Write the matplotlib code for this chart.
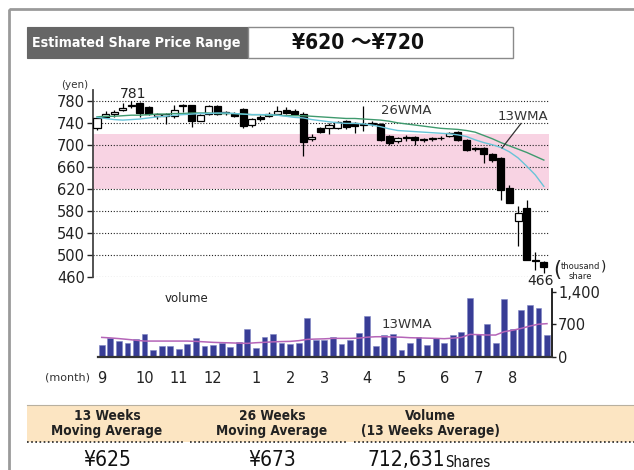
import matplotlib.pyplot as plt
from matplotlib.patches import Rectangle
import numpy as np

# --------- DADOS ----------
# velas semanais (iene)
opens = [731, 752, 758, 764, 772, 777, 770, 753, 753, 753, 773, 773, 745, 757, 772, 759, 757, 767,
         737, 752, 753, 758, 764, 763, 758, 711, 732, 731, 732, 744, 740, 737, 738, 738, 717, 707,
         716, 715, 710, 711, 713, 717, 724, 710, 694, 695, 684, 677, 622, 561, 585, 490, 486]
highs = [750, 762, 764, 777, 781, 779, 771, 759, 759, 774, 775, 774, 757, 774, 773, 762, 760, 768,
         750, 755, 760, 771, 770, 766, 760, 721, 734, 740, 744, 746, 742, 771, 744, 740, 719, 716,
         719, 717, 714, 716, 717, 724, 726, 712, 697, 697, 686, 679, 627, 589, 601, 506, 488]
lows = [728, 750, 752, 762, 769, 751, 755, 748, 738, 749, 760, 733, 744, 755, 756, 755, 752, 731,
        734, 745, 751, 756, 757, 755, 680, 708, 722, 720, 730, 729, 722, 727, 735, 707, 700, 705,
        708, 700, 706, 707, 709, 715, 708, 690, 690, 667, 670, 601, 594, 516, 490, 472, 466]
closes = [749, 757, 760, 768, 773, 759, 757, 757, 757, 764, 772, 745, 756, 772, 758, 760, 754, 736,
          748, 748, 757, 762, 759, 757, 706, 716, 724, 737, 742, 734, 735, 739, 741, 710, 705, 713,
          714, 709, 711, 713, 714, 722, 710, 692, 693, 684, 673, 619, 595, 576, 491, 488, 478]

ma13 = [751, 749, 747, 746, 747, 748, 750, 752, 753, 755, 756, 757, 758, 758, 759, 759, 758, 757,
        756, 756, 756, 755, 753, 751, 750, 747, 745, 743, 741, 740, 740, 739, 737, 734, 730, 727,
        726, 725, 724, 723, 722, 721, 719, 716, 710, 705, 701, 696, 688, 677, 662, 646, 625]
ma26 = [752, 753, 753, 754, 755, 755, 756, 757, 757, 758, 758, 759, 759, 759, 758, 758, 758, 757,
        756, 756, 755, 755, 754, 754, 754, 753, 752, 751, 750, 749, 749, 748, 747, 746, 744, 741,
        739, 737, 735, 733, 731, 730, 729, 727, 724, 718, 712, 705, 699, 693, 687, 680, 673]

# volume (mil acoes)
volume = [251, 395, 345, 300, 373, 488, 144, 230, 230, 165, 273, 402, 230, 251, 287, 215, 316, 589,
          194, 431, 488, 300, 266, 300, 833, 359, 359, 431, 266, 359, 503, 876, 237, 467, 481, 144,
          287, 431, 251, 395, 300, 467, 524, 1271, 488, 704, 287, 1235, 589, 1005, 1113, 1041, 467]
vol_ma13 = [416, 405, 390, 373, 355, 337, 337, 337, 337, 337, 337, 330, 320, 309, 303, 298, 292, 287,
            301, 310, 320, 326, 330, 345, 373, 380, 385, 395, 395, 395, 400, 420, 430, 431, 425, 420,
            409, 405, 400, 395, 388, 400, 416, 481, 475, 467, 467, 539, 570, 610, 660, 700, 712]

month_pos = [0, 5, 9, 13, 18, 22, 26, 31, 35, 40, 44, 48]
month_labels = ["9", "10", "11", "12", "1", "2", "3", "4", "5", "6", "7", "8"]

price_ticks = [460, 500, 540, 580, 620, 660, 700, 740, 780]
vol_ticks = [0, 700, 1400]
vol_tick_labels = ["0", "700", "1,400"]

band_low, band_high = 620, 720
ma13_last, ma26_last, vol_ma_last = "¥625", "¥673", "712,631"

# --------- CONFIG ----------
W, H = 634, 470
NARROW = ["DejaVu Sans", "Noto Sans CJK JP"]
COR_ALTA = "white"
COR_BAIXA = "black"
COR_MA13 = "#68c4d8"
COR_MA26 = "#3f9a6e"
COR_VOL = "#383d96"
COR_VOL_MA = "#b565b8"


def fr(x0, y0, x1, y1):
    # pixels -> fracao da figura [left, bottom, width, height]
    return [x0 / W, 1 - y1 / H, (x1 - x0) / W, (y1 - y0) / H]


fig = plt.figure(figsize=(W / 100, H / 100), dpi=100)
fig.patch.set_facecolor("white")

# --------- GRAFICO DE PRECO ----------
ax = fig.add_axes(fr(92.7, 90, 549, 276.7), zorder=2)
ax.set_facecolor("none")
x = np.arange(len(opens))
ax.set_xlim(-0.5, len(opens) - 0.4)
ax.set_ylim(460, 801)

ax.axhspan(band_low, band_high, color="#f8d3e3", lw=0, zorder=0)
for t in price_ticks:
    ax.axhline(t, color="#222222", lw=0.8, ls=(0, (1, 1.6)), zorder=1)

o = np.array(opens)
c = np.array(closes)
bottoms = np.minimum(o, c)
heights = np.maximum(np.abs(c - o), 1.2)
cores = [COR_ALTA if cc >= oo else COR_BAIXA for oo, cc in zip(o, c)]
ax.vlines(x, lows, highs, color="black", lw=0.9, zorder=2)
ax.bar(x, heights, bottom=bottoms, width=0.82, color=cores, edgecolor="black", lw=0.9, zorder=3)

ax.plot(x, ma26, color=COR_MA26, lw=1.0, zorder=4)
ax.plot(x, ma13, color=COR_MA13, lw=1.0, zorder=4)

ax.set_yticks(price_ticks)
ax.set_xticks([])
ax.tick_params(axis="y", direction="out", length=4, width=1, labelsize=10.5, pad=1.5, colors="#222222")
for s in ["top", "right", "bottom"]:
    ax.spines[s].set_visible(False)
ax.spines["left"].set_color("#444444")
ax.spines["left"].set_linewidth(1.3)

# --------- GRAFICO DE VOLUME ----------
axv = fig.add_axes(fr(98.3, 289.4, 551.7, 356.7), zorder=2)
axv.set_facecolor("none")
axv.set_xlim(-0.4, len(volume) - 0.45)
axv.set_ylim(0, 1450)
axv.bar(x, volume, width=0.68, color=COR_VOL, edgecolor="#7d84c4", lw=0.4, zorder=2)
axv.plot(x, vol_ma13, color=COR_VOL_MA, lw=1.1, zorder=3)
axv.yaxis.tick_right()
axv.set_yticks(vol_ticks, vol_tick_labels)
axv.tick_params(axis="y", direction="out", length=3, width=1, labelsize=10.5, pad=1.5, colors="#222222")
axv.set_xticks(month_pos, month_labels)
axv.tick_params(axis="x", length=0, labelsize=10.5, pad=10, colors="#222222")
for s in ["top", "left"]:
    axv.spines[s].set_visible(False)
axv.spines["right"].set_linewidth(1.2)
axv.spines["bottom"].set_linewidth(1.6)
axv.spines["bottom"].set_color("#333333")

# --------- CAMADA DE TEXTOS / MOLDURA (coordenadas em pixels) ----------
ov = fig.add_axes([0, 0, 1, 1], zorder=5)
ov.set_xlim(0, W)
ov.set_ylim(H, 0)
ov.axis("off")
ov.patch.set_alpha(0)

# moldura externa
ov.add_patch(Rectangle((9, 9), 640, 480, fill=False, edgecolor="#9a9a9a", lw=2))

# cabecalho
ov.add_patch(Rectangle((26.7, 26.7), 221.3, 31.6, facecolor="#666666", edgecolor="#666666", lw=0.8))
ov.add_patch(Rectangle((248, 26.7), 265, 31.6, facecolor="white", edgecolor="#8a8a8a", lw=1))
ov.text(136, 43, "Estimated Share Price Range", color="white", fontsize=10.2, fontweight="bold",
        family=NARROW, fontstretch="condensed", ha="center", va="center")
ov.text(358, 43, "¥620 ～¥720", color="#111111", fontsize=15, fontweight="bold",
        family=NARROW, fontstretch="condensed", ha="center", va="center")

# rotulos do grafico de preco
ov.text(75, 84.5, "(yen)", fontsize=7.5, ha="center", va="center", color="#333333")
ov.text(133, 93.5, "781", fontsize=10, ha="center", va="center", color="#222222")
ov.text(541, 281, "466", fontsize=10, ha="center", va="center", color="#222222")
ov.text(406, 110.5, "26WMA", fontsize=9.5, ha="center", va="center", color="#333333")
ov.text(523, 117, "13WMA", fontsize=9.5, ha="center", va="center", color="#333333")
ov.plot([521, 502], [123.5, 148], color="#333333", lw=0.9)
ov.text(557, 270, "(", fontsize=15, ha="center", va="center", color="#222222")
ov.text(580, 266.5, "thousand", fontsize=6, ha="center", va="center", color="#222222")
ov.text(580, 276.5, "share", fontsize=6, ha="center", va="center", color="#222222")
ov.text(604, 267, ")", fontsize=10, ha="center", va="center", color="#222222")

# rotulos do grafico de volume
ov.text(186.7, 298, "volume", fontsize=8.5, ha="center", va="center", color="#222222")
ov.text(406.7, 324, "13WMA", fontsize=9.5, ha="center", va="center", color="#333333")
ov.text(68, 377, "(month)", fontsize=8, ha="center", va="center", color="#333333")

# tabela inferior
ov.add_patch(Rectangle((26.7, 405), 640, 37, facecolor="#fce5c2", edgecolor="none"))
ov.plot([26.7, 634], [405, 405], color="#b8b0a0", lw=0.8)
for x0, x1 in [(27, 184), (190, 348), (354, 634)]:
    ov.plot([x0, x1], [442.3, 442.3], color="#222222", lw=1.2, ls=(0, (1, 1.5)))

colunas = [(107, "13 Weeks", "Moving Average"),
           (272, "26 Weeks", "Moving Average"),
           (430, "Volume", "(13 Weeks Average)")]
for cx, l1, l2 in colunas:
    ov.text(cx, 416.5, l1, fontsize=9.8, fontweight="bold", family=NARROW, fontstretch="condensed",
            ha="center", va="center", color="#222222")
    ov.text(cx, 431, l2, fontsize=9.8, fontweight="bold", family=NARROW, fontstretch="condensed",
            ha="center", va="center", color="#222222")

ov.text(107, 460.5, ma13_last, fontsize=15, family=NARROW, fontstretch="condensed",
        ha="center", va="center", color="#111111")
ov.text(272, 460.5, ma26_last, fontsize=15, family=NARROW, fontstretch="condensed",
        ha="center", va="center", color="#111111")
ov.text(445, 460.5, vol_ma_last, fontsize=15, family=NARROW, fontstretch="condensed",
        ha="right", va="center", color="#111111")
ov.text(445, 462.5, "Shares", fontsize=10.5, family=NARROW, fontstretch="condensed",
        ha="left", va="center", color="#111111")

plt.savefig("out.png", dpi=100, facecolor=fig.get_facecolor())
